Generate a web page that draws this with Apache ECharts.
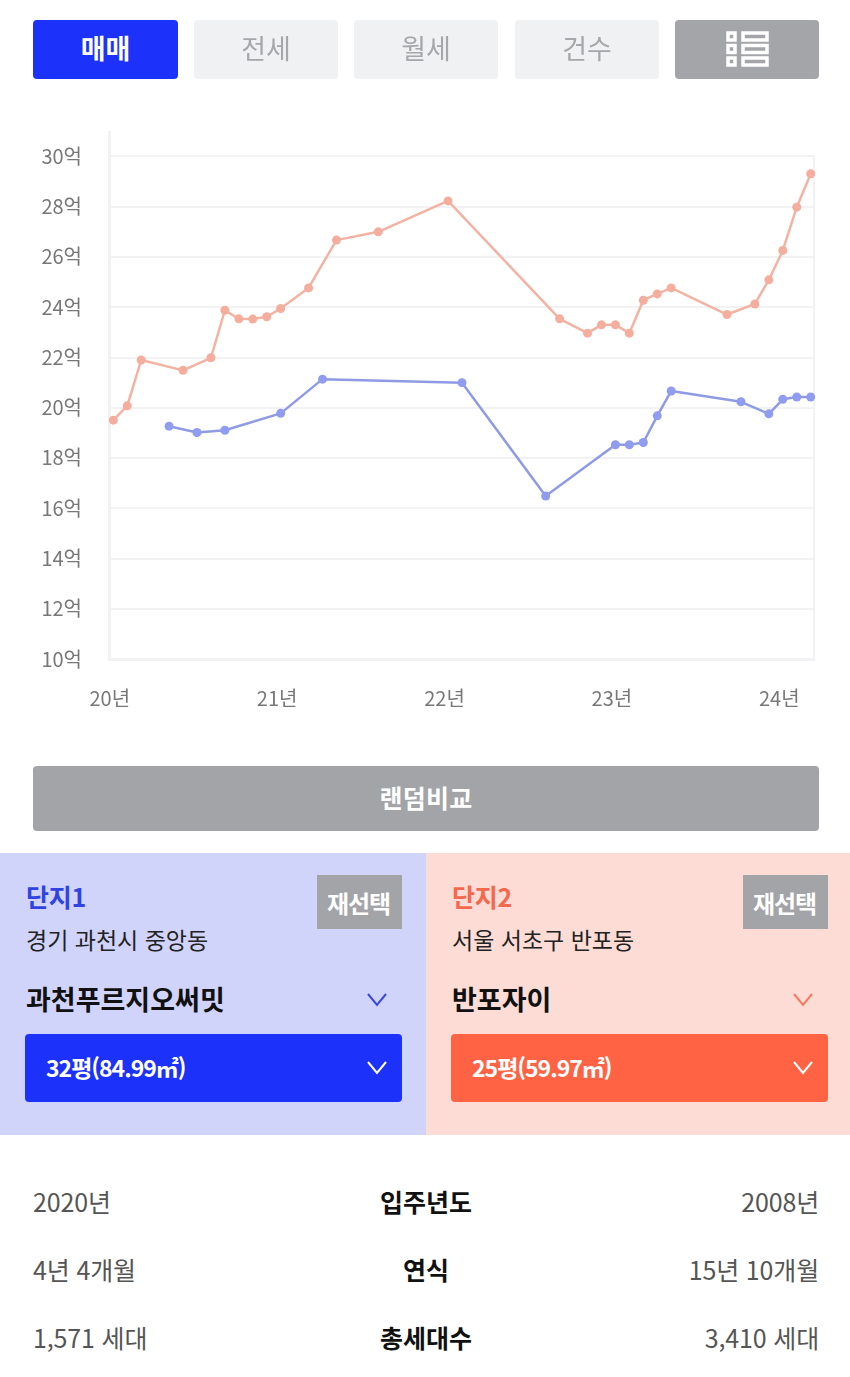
<!DOCTYPE html>
<html lang="ko">
<head>
<meta charset="utf-8">
<title>단지 비교</title>
<script src="https://cdn.jsdelivr.net/npm/echarts@6/dist/echarts.min.js"></script>
<style>
html, body { margin: 0; padding: 0; background: #fff; }
body { position: relative; width: 850px; height: 1377px; overflow: hidden; font-family: "Noto Sans CJK KR", "Noto Sans", sans-serif; }
#myChart { position: absolute; left: 0; top: 0; width: 850px; height: 740px; }
.box { position: absolute; display: flex; align-items: center; justify-content: center; box-sizing: border-box; }
.tab { top: 20px; width: 145px; height: 59px; padding-bottom: 4px; border-radius: 4px; background: #f0f1f3; color: #a6a7aa; font-size: 27px; }
.txt { position: absolute; white-space: nowrap; line-height: 1; }
.panel { position: absolute; top: 853px; width: 426px; height: 282px; }
.reselect { top: 875px; width: 85px; height: 54px; padding-right: 2px; background: #a3a4a7; color: #fff; font-size: 24px; font-weight: 700; letter-spacing: -1px; }
.select { top: 1034px; width: 377px; height: 68px; border-radius: 4px; }
.row { font-size: 25px; color: #555; letter-spacing: -0.15px; }
.mid { left: 226px; width: 400px; text-align: center; color: #111; font-weight: 700; letter-spacing: 0; }
.end { right: 31px; }
svg { position: absolute; }
</style>
</head>
<body>
<div id="myChart"></div>

<div class="box tab" style="left:33px;background:#1c31fa;color:#fff;font-weight:700">매매</div>
<div class="box tab" style="left:194px;width:144px">전세</div>
<div class="box tab" style="left:354px;width:144px">월세</div>
<div class="box tab" style="left:515px;width:144px">건수</div>
<div class="box tab" style="left:675px;width:144px;background:#a4a5a8"></div>
<svg style="left:725px;top:30px" width="44" height="38" fill="none" stroke="#fff" stroke-width="3.5">
	<rect x="3" y="3" width="7" height="7"/><rect x="3" y="15.5" width="7" height="7"/><rect x="3" y="28" width="7" height="7"/>
	<rect x="18" y="3" width="24" height="7"/><rect x="18" y="15.5" width="24" height="7"/><rect x="18" y="28" width="24" height="7"/>
</svg>

<div class="box" style="left:33px;top:766px;width:786px;height:65px;padding-bottom:4px;border-radius:4px;background:#a3a4a7;color:#fff;font-size:25px;font-weight:700;letter-spacing:0.3px">랜덤비교</div>

<div class="panel" style="left:0;background:#d0d4fb"></div>
<div class="panel" style="left:426px;width:424px;background:#fddcd6"></div>

<div class="txt" style="left:26px;top:884px;font-size:25px;font-weight:700;color:#2f44e0;letter-spacing:-0.3px">단지1</div>
<div class="box reselect" style="left:317px">재선택</div>
<div class="txt" style="left:26px;top:928px;font-size:23px;color:#222">경기 과천시 중앙동</div>
<div class="txt" style="left:26px;top:985px;font-size:27px;font-weight:700;color:#111">과천푸르지오써밋</div>
<svg style="left:366px;top:992px" width="22" height="16" fill="none" stroke="#3a4ad8" stroke-width="2"><path d="M2 2 L11 13 L20 2"/></svg>
<div class="box select" style="left:25px;background:#1c31fa"></div>
<div class="txt" style="left:46px;top:1056px;font-size:23px;font-weight:700;color:#fff;letter-spacing:-1px">32평(84.99㎡)</div>
<svg style="left:366px;top:1060px" width="22" height="16" fill="none" stroke="#fff" stroke-width="2"><path d="M2 2 L11 13 L20 2"/></svg>

<div class="txt" style="left:452px;top:884px;font-size:25px;font-weight:700;color:#f4694e;letter-spacing:-0.3px">단지2</div>
<div class="box reselect" style="left:743px">재선택</div>
<div class="txt" style="left:452px;top:928px;font-size:23px;color:#222">서울 서초구 반포동</div>
<div class="txt" style="left:452px;top:985px;font-size:27px;font-weight:700;color:#111">반포자이</div>
<svg style="left:792px;top:992px" width="22" height="16" fill="none" stroke="#f47a60" stroke-width="2"><path d="M2 2 L11 13 L20 2"/></svg>
<div class="box select" style="left:451px;background:#ff6344"></div>
<div class="txt" style="left:472px;top:1056px;font-size:23px;font-weight:700;color:#fff;letter-spacing:-1px">25평(59.97㎡)</div>
<svg style="left:792px;top:1060px" width="22" height="16" fill="none" stroke="#fff" stroke-width="2"><path d="M2 2 L11 13 L20 2"/></svg>

<div class="txt row" style="left:33px;top:1189px">2020년</div>
<div class="txt row mid" style="top:1189px">입주년도</div>
<div class="txt row end" style="top:1189px">2008년</div>
<div class="txt row" style="left:33px;top:1257px">4년 4개월</div>
<div class="txt row mid" style="top:1257px">연식</div>
<div class="txt row end" style="top:1257px">15년 10개월</div>
<div class="txt row" style="left:33px;top:1325px">1,571 세대</div>
<div class="txt row mid" style="top:1325px">총세대수</div>
<div class="txt row end" style="top:1325px">3,410 세대</div>

<script>
// 20년 1월부터 센 개월 수
const yearMonths = [0, 12, 24, 36, 48];
const yearLabels = ["20년", "21년", "22년", "23년", "24년"];

const months1 = [4, 6, 8, 12, 15, 25, 31, 36, 37, 38, 39, 40, 45, 47, 48, 49, 50];
const prices1 = [19.26, 19.01, 19.1, 19.77, 21.13, 20.99, 16.48, 18.52, 18.52, 18.61, 19.67, 20.66, 20.23, 19.75, 20.33, 20.42, 20.42];

const months2 = [0, 1, 2, 5, 7, 8, 9, 10, 11, 12, 14, 16, 19, 24, 32, 34, 35, 36, 37, 38, 39, 40, 44, 46, 47, 48, 49, 50];
const prices2 = [19.5, 20.07, 21.89, 21.48, 21.98, 23.87, 23.53, 23.52, 23.61, 23.94, 24.76, 26.66, 26.99, 28.22, 23.53, 22.96, 23.29, 23.29, 22.96, 24.27, 24.52, 24.76, 23.7, 24.12, 25.08, 26.25, 27.97, 29.3];

const xMin = -0.308;
const xMax = 50.237;
const lineColor = "#f2f2f5";

function pairs(xs, ys) {
	return xs.map((x, i) => [x, ys[i]]);
}

var myChart = echarts.init(document.getElementById("myChart"));
myChart.setOption({
	animation: false,
	grid: { left: 109, right: 36, top: 132, bottom: 81 },
	xAxis: {
		type: "value",
		min: xMin,
		max: xMax,
		splitLine: { show: false },
		axisTick: { show: false },
		axisLine: { show: true, onZero: false, lineStyle: { color: lineColor, width: 3 } },
		axisLabel: {
			customValues: yearMonths,
			formatter: (v) => yearLabels[yearMonths.indexOf(v)],
			color: "#777",
			fontSize: 20,
			fontFamily: "Noto Sans CJK KR",
			margin: 29,
			padding: [0, 7, 0, 0],
		},
	},
	yAxis: {
		type: "value",
		min: 10,
		max: 30.96,
		interval: 2,
		axisTick: { show: false },
		axisLine: { show: true, onZero: false, lineStyle: { color: lineColor, width: 3 } },
		splitLine: { show: true, showMaxLine: false, lineStyle: { color: lineColor, width: 2 } },
		axisLabel: {
			showMaxLabel: false,
			formatter: "{value}억",
			color: "#777",
			fontSize: 20,
			fontFamily: "Noto Sans CJK KR",
			margin: 27,
		},
	},
	series: [
		{
			name: "반포자이",
			type: "line",
			clip: false,
			data: pairs(months2, prices2),
			symbol: "circle",
			symbolSize: 9,
			itemStyle: { color: "#f5ae9d" },
			lineStyle: { color: "#f2b3a3", width: 2.5 },
			markLine: {
				silent: true,
				z: 0,
				symbol: "none",
				label: { show: false },
				lineStyle: { color: lineColor, width: 2, type: "solid" },
				data: [[{ coord: [xMax, 10] }, { coord: [xMax, 30] }]],
			},
		},
		{
			name: "과천푸르지오써밋",
			type: "line",
			clip: false,
			data: pairs(months1, prices1),
			symbol: "circle",
			symbolSize: 9,
			itemStyle: { color: "#8f9cf0" },
			lineStyle: { color: "#8e9be4", width: 2.5 },
		},
	],
});
</script>
</body>
</html>
